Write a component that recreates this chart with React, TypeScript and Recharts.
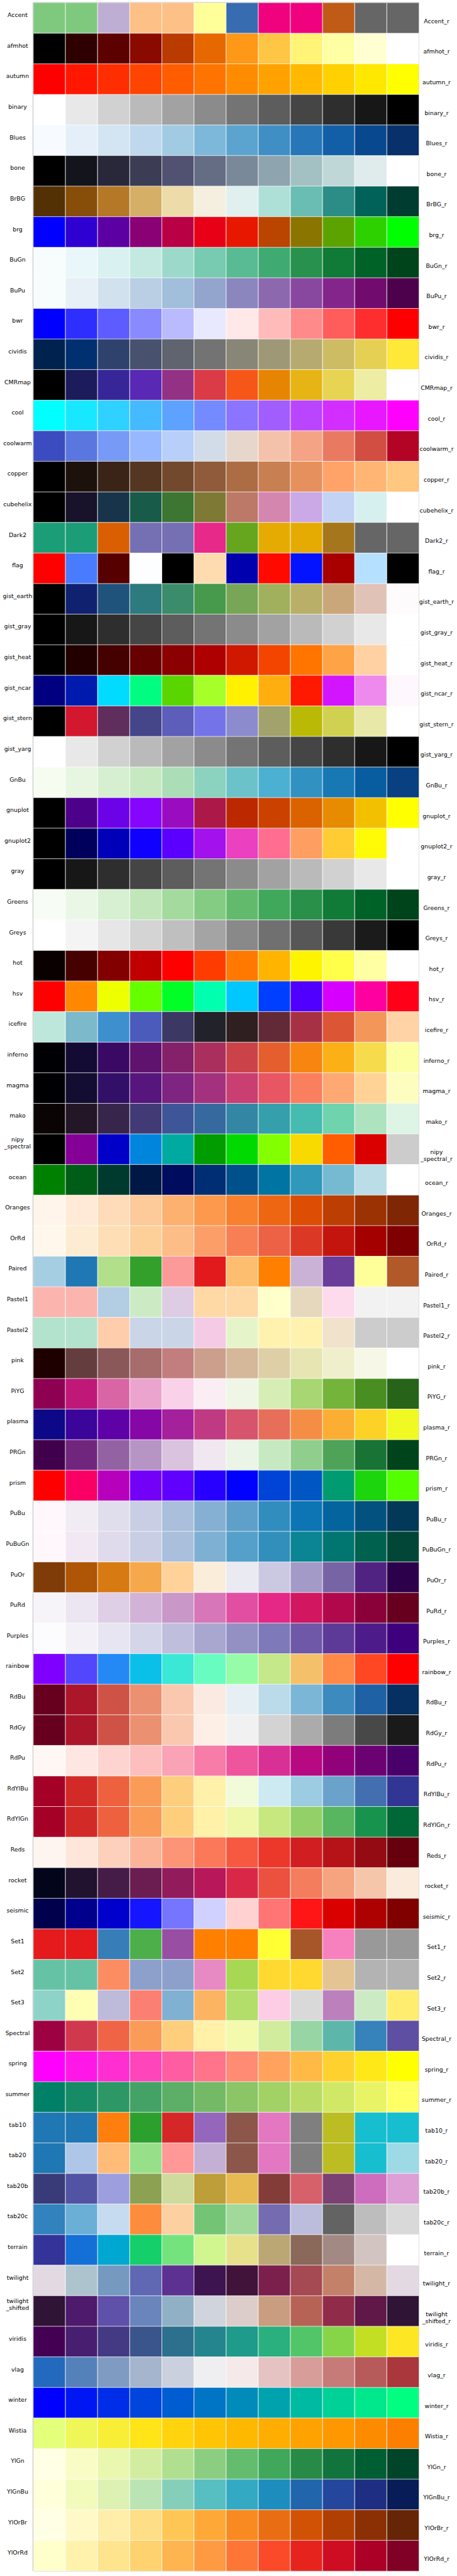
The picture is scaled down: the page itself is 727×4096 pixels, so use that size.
import React from "react";
import { BarChart, Bar, XAxis, YAxis, Cell, ReferenceArea } from "recharts";

// colormap names, top to bottom
const CMAP_NAMES = [
  "Accent", "afmhot", "autumn", "binary", "Blues", "bone", "BrBG", "brg", "BuGn", "BuPu",
  "bwr", "cividis", "CMRmap", "cool", "coolwarm", "copper", "cubehelix", "Dark2", "flag",
  "gist_earth", "gist_gray", "gist_heat", "gist_ncar", "gist_stern", "gist_yarg", "GnBu",
  "gnuplot", "gnuplot2", "gray", "Greens", "Greys", "hot", "hsv", "icefire", "inferno",
  "magma", "mako", "nipy_spectral", "ocean", "Oranges", "OrRd", "Paired", "Pastel1",
  "Pastel2", "pink", "PiYG", "plasma", "PRGn", "prism", "PuBu", "PuBuGn", "PuOr", "PuRd",
  "Purples", "rainbow", "RdBu", "RdGy", "RdPu", "RdYlBu", "RdYlGn", "Reds", "rocket",
  "seismic", "Set1", "Set2", "Set3", "Spectral", "spring", "summer", "tab10", "tab20",
  "tab20b", "tab20c", "terrain", "twilight", "twilight_shifted", "viridis", "vlag", "winter",
  "Wistia", "YlGn", "YlGnBu", "YlOrBr", "YlOrRd",
];

// 12 samples per colormap, same order as CMAP_NAMES
const SWATCHES = [
  "7fc97f 7fc97f beaed4 fdc086 fdc086 ffff99 386cb0 f0027f f0027f bf5b17 666666 666666",
  "000000 2e0000 5c0000 8a0a00 ba3b00 e86800 ff9717 ffc545 fff475 ffffa3 ffffd1 ffffff",
  "ff0000 ff1700 ff2e00 ff4500 ff5d00 ff7400 ff8b00 ffa200 ffba00 ffd100 ffe800 ffff00",
  "ffffff e8e8e8 d1d1d1 bababa a2a2a2 8b8b8b 747474 5d5d5d 454545 2e2e2e 171717 000000",
  "f7fbff e5eff9 d3e4f3 bfd8ed a1cbe2 7db8da 5ca4d0 3f8fc5 2676b8 135fa7 08488e 08306b",
  "000000 14141c 28283a 3c3c54 515171 656d85 7a8999 8ea4ae a3c1c3 c0d7d7 e0ebeb ffffff",
  "543005 874e0a b57826 d6af66 eedbaa f5efdf e0f0ee aee0d8 6abdb2 2b8d85 01625a 003c30",
  "0000ff 2e00d1 5c00a3 8a0075 ba0045 e80017 e81700 ba4500 8a7500 5ca300 2ed100 00ff00",
  "f7fcfd eaf7fa daf1f1 c4e9e1 9dd9cb 78cab1 59bb93 3fab72 28914d 107a37 006227 00441b",
  "f7fcfd e6f0f6 d1e1ee bacfe4 a1bedb 93a4cd 8c86be 8c68af 8948a0 84258b 720b6e 4d004b",
  "0000ff 2e2eff 5c5cff 8a8aff babaff e8e8ff ffe8e8 ffbaba ff8a8a ff5c5c ff2e2e ff0000",
  "00224e 00306f 2f426d 48526e 5f646f 737373 888677 9f9877 b6aa70 cdbc63 e5d054 fee838",
  "000000 1c1c5c 372698 5928b5 933285 da3b46 f65718 e68502 e6b515 e6d452 ededa3 ffffff",
  "00ffff 17e8ff 2ed1ff 45baff 5da2ff 748bff 8b74ff a25dff ba45ff d12eff e817ff ff00ff",
  "3b4cc0 5977de 779af7 97b8ff b7cff9 d2dbe8 e7d6cc f4c2aa f5a385 e97a61 d24d42 b40426",
  "000000 1c120b 392417 553622 73492e 8f5b3a ac6d45 c87f51 e6915d ffa368 ffb573 ffc77f",
  "000000 19122b 17344b 185b48 3c7632 7e7a36 bc7967 d486af caa9e6 c2d3f3 d6f0ef ffffff",
  "1b9e77 1b9e77 d95f02 7570b3 7570b3 e7298a 66a61e e6ab02 e6ab02 a6761d 666666 666666",
  "ff0000 497bff 570000 fcfeff 000000 ffdcaf 0000af ff0900 0313ff a80000 b6e0ff 000000",
  "000000 10226f 20537b 2d7a7f 3b8c6b 47994c 77a656 a0b05c b9af68 caa77b e1c2b6 fdfbfb",
  "000000 171717 2e2e2e 454545 5d5d5d 747474 8b8b8b a2a2a2 bababa d1d1d1 e8e8e8 ffffff",
  "000000 220000 450000 670000 8b0000 ae0000 d01700 f34500 ff7500 ffa347 ffd1a3 ffffff",
  "000080 001aae 00dbfe 00fd82 5ad500 a6ff28 fff100 ffae10 ff1900 d314ff ee8aee fef8fe",
  "000000 d2172e 5f2e5c 45458a 5d5dba 7474e8 8b8bce a2a26c baba06 d1d151 e8e8a8 ffffff",
  "ffffff e8e8e8 d1d1d1 bababa a2a2a2 8b8b8b 747474 5d5d5d 454545 2e2e2e 171717 000000",
  "f7fcf0 e6f6e1 d7efd1 c6e9c2 abdeb6 8bd2bf 6bc3c9 4bb0d1 3192c2 1878b4 085da0 084081",
  "000000 4d0089 6c02e7 8505fd 9a0cc0 ac1848 bc2900 cb4100 da6300 e78c00 f3c000 ffff00",
  "000000 00005c 0000b8 1000ff 5b00ff a312ed eb40bf ff6e91 ff9e61 ffcc33 fffa05 ffffff",
  "000000 171717 2e2e2e 454545 5d5d5d 747474 8b8b8b a2a2a2 bababa d1d1d1 e8e8e8 ffffff",
  "f7fcf5 eaf7e6 d8f0d2 c1e6ba a4da9e 84cc83 62bb6d 3fa85b 289049 107a37 006227 00441b",
  "ffffff f4f4f4 e6e6e6 d4d4d4 bfbfbf a4a4a4 898989 707070 575757 393939 1b1b1b 000000",
  "0b0000 470000 830000 c00000 ff0000 ff3c00 ff7800 ffb500 fff400 ffff4a ffffa4 ffffff",
  "ff0000 ff8800 eeff00 66ff00 00ff27 00ffaf 00c7ff 003fff 4f00ff d600ff ff00a0 ff0018",
  "bde7db 7bb9cb 3e8fce 4a5bbb 3b3864 22222a 2f1f20 622a37 a73144 dc5535 f2965a ffd3a5",
  "000004 140b35 3a0963 5f136e 85216a aa2f5d cb4348 e55f2e f78510 fbb016 f6dc4d fcffa4",
  "000004 120d31 331067 57167d 7e2481 a4317d c93f71 e85563 fa7f5f fea874 fed395 fcfdbf",
  "0b0405 231626 37254b 413a75 3e5598 366a9f 3486a5 35a0ab 46bbb0 6fd3ad aee3c0 def5e5",
  "000000 850096 0000c9 0085dd 00aaa0 009c00 00da00 84ff00 f8da00 ff5d00 da0000 cccccc",
  "008000 005d17 003a2e 001845 000c5d 002e74 00518b 0074a2 3098ba 75bad1 badde8 ffffff",
  "fff5eb feead6 fedcba fdca99 fdb170 fd994d f9802d ef6612 dd4d04 bd3e02 9b3203 7f2704",
  "fff7ec feecd2 fedfb5 fdd09a fdbd86 fc9e68 f77f53 ed6145 db3926 c3150e a40000 7f0000",
  "a6cee3 1f78b4 b2df8a 33a02c fb9a99 e31a1c fdbf6f ff7f00 cab2d6 6a3d9a ffff99 b15928",
  "fbb4ae fbb4ae b3cde3 ccebc5 decbe4 fed9a6 fed9a6 ffffcc e5d8bd fddaec f2f2f2 f2f2f2",
  "b3e2cd b3e2cd fdcdac cbd5e8 cbd5e8 f4cae4 e6f5c9 fff2ae fff2ae f1e2cc cccccc cccccc",
  "1e0000 643e3e 8a5858 a76c6c c27e7e cc9e8c d5b89a decfa6 e7e5b2 efefcc f7f7e7 ffffff",
  "8e0152 c01879 d965a4 eba4cd f9d1e8 faedf3 eff6e5 d6eeb6 a7d672 75b43b 498e20 276419",
  "0d0887 3b049a 5e01a6 8507a5 a5209b c03a83 d6546e e76f5a f58e45 fcae33 fbd225 f0f921",
  "40004b 71267e 9262a3 b695c4 dac3df f0e7f0 eaf4e7 c7e9c1 90ce8e 4ea359 187334 00441b",
  "ff0000 fa0064 b700bb 7300f7 6000ff 2700ff 0001ff 0044d7 0057c3 009b70 1dd50d 54ff00",
  "fff7fb f1ebf4 e0dded c9cee4 a9bfdc 86b0d3 5ea0ca 328dbf 0d75b3 04649d 03517e 023858",
  "fff7fb f1e8f3 e0dbec c9cee4 a9bfdc 7eb0d3 55a0ca 328fbc 0b8493 01756f 01614f 014636",
  "7f3b08 ae5506 d77a11 f5a84c fed299 faedda e9eaf2 cbc9e2 a39ac7 7764a5 502382 2d004b",
  "f7f4f9 ebe6f2 dfcfe6 d2b3d7 ca97c9 d776b8 e24fa2 e52786 d2165f b0084b 8a0039 67001f",
  "fcfbfd f3f1f7 e6e5f1 d5d5e9 bfbfdd a9a7cf 9390c3 7e79b8 6e58a7 5e3a98 4e1c8a 3f007d",
  "8000ff 5247fc 2489f5 0bc0e8 3be8d6 68fcc1 97fca7 c4e88a f4c069 ff8947 ff4724 ff0000",
  "67001f ab162a cf5246 eb9172 fac8af faeae1 e6eff4 bbdaea 7bb6d6 3c8abe 1e61a5 053061",
  "67001f ab162a cf5246 eb9172 fac8af feefe6 f1f1f1 d3d3d3 ababab 7c7c7c 484848 1a1a1a",
  "fff7f3 fee6e3 fdd4d0 fcbfbe faa2b6 f87ca8 ee559d d93095 b60982 91017a 6c0173 49006a",
  "a50026 d22b27 ee613e fa9b58 fece7f fff1aa f1fad9 cdeaf3 9bcce2 6ba2cb 436fb1 313695",
  "a50026 d22b27 ee613e fa9b58 fece7c fff1a8 eef8a8 c7e77f 93d168 57b65f 18934e 006837",
  "fff5f0 fee6da fdd0bc fcb499 fc9576 fb7858 f75940 ec382b d11e20 b61319 940b13 67000d",
  "03051a 21132f 451c47 6b1d51 921c5b b8175a d92847 ec503e f37d5c f6a37f f6c6ab faebdd",
  "00004c 00008d 0000cd 1515ff 7575ff d1d1ff ffd1d1 ff7575 ff1515 db0000 ad0000 800000",
  "e41a1c e41a1c 377eb8 4daf4a 984ea3 ff7f00 ff7f00 ffff33 a65628 f781bf 999999 999999",
  "66c2a5 66c2a5 fc8d62 8da0cb 8da0cb e78ac3 a6d854 ffd92f ffd92f e5c494 b3b3b3 b3b3b3",
  "8dd3c7 ffffb3 bebada fb8072 80b1d3 fdb462 b3de69 fccde5 d9d9d9 bc80bd ccebc5 ffed6f",
  "9e0142 d0384e ee6445 fa9b58 fece7c fff1a8 f4faad d1ec9c 97d5a4 5cb7aa 3682ba 5e4fa2",
  "ff00ff ff17e8 ff2ed1 ff45ba ff5da2 ff748b ff8b74 ffa25d ffba45 ffd12e ffe817 ffff00",
  "008066 178b66 2e9766 45a266 5dae66 74ba66 8bc566 a2d166 badc66 d1e866 e8f466 ffff66",
  "1f77b4 1f77b4 ff7f0e 2ca02c d62728 9467bd 8c564b e377c2 7f7f7f bcbd22 17becf 17becf",
  "1f77b4 aec7e8 ffbb78 98df8a ff9896 c5b0d5 8c564b e377c2 7f7f7f bcbd22 17becf 9edae5",
  "393b79 5254a3 9c9ede 8ca252 cedb9c bd9e39 e7ba52 843c39 d6616b 7b4173 ce6dbd de9ed6",
  "3182bd 6baed6 c6dbef fd8d3c fdd0a2 74c476 a1d99b 756bb1 bcbddc 636363 bdbdbd d9d9d9",
  "333399 1470d6 00a8d1 15d06a 75e37d d1f690 e8e18c baa774 8a695a a38984 d1c4c1 ffffff",
  "e2d9e2 adc4ce 7599bf 6068b4 5d3191 3d144f 41133b 7b204d a54953 c3816a d4b7a5 e2d9e2",
  "2f1436 4e1a6c 5f50a9 6a84bc 90b0c5 d0d4dc dccdca c99d80 b66356 902c4a 5f1847 2f1436",
  "440154 481f70 443983 3a548c 2d708e 25858e 1e9b8a 2ab07f 52c569 86d549 c2df23 fde725",
  "2369bd 5581bb 809bc2 a4b5cd cbd0de efeef1 f6e9e9 e5c3c3 d69d99 c67b79 b75b5a a9373b",
  "0000ff 0017f4 002ee8 0045dc 005dd1 0074c5 008bba 00a2ae 00baa2 00d196 00e88b 00ff80",
  "e4ff7a eef757 f8ee35 ffe418 ffd40e ffc505 ffb800 ffad00 ffa200 fe9700 fd8b00 fc7f00",
  "ffffe5 f9fdc5 eaf7af d2eda0 b1df90 8bce81 64bc6f 3fa85b 288a47 10743c 005e33 004529",
  "ffffd9 f2fabc dcf1b2 bbe4b5 85cfba 57bec1 34a9c3 1d8dbe 2166ac 24479d 1d2e83 081d58",
  "ffffe5 fff9c7 feeea9 fede86 fec654 fea937 f88a21 e96d12 d15205 b03f03 8b3005 662506",
  "ffffcc fff2ac fee48d fed36f feb54f fd9a42 fd7636 fa4a29 e7231e ce0c22 ac0026 800026",
];

// long names are broken over two lines
const WRAPPED: Record<string, string[]> = {
  nipy_spectral: ["nipy", "_spectral"],
  twilight_shifted: ["twilight", "_shifted"],
};

// every swatch is one unit wide
const SAMPLE_KEYS = SWATCHES[0].split(" ").map((_, i) => `s${i}`);
const CELL_SPAN = 1;

const data = CMAP_NAMES.map((name) => {
  const row: Record<string, string | number> = { name };
  SAMPLE_KEYS.forEach((k) => (row[k] = CELL_SPAN));
  return row;
});
const colors = SWATCHES.map((s) => s.split(" ").map((h) => "#" + h));

const W = 727;
const H = 4096;
const FONT = 9.4;
const LINE = 10.9;
const LEFT_X = 28;
const RIGHT_X = 694.5;

const labelStyle = {
  fontSize: FONT,
  fontFamily: "DejaVu Sans",
  fill: "#000",
};

const LeftTick = (props: any) => {
  const { y, payload } = props;
  const lines = WRAPPED[payload.value] ?? [payload.value];
  return (
    <g>
      {lines.map((ln: string, i: number) => (
        <text
          key={i}
          x={LEFT_X}
          y={y - 4.9 - (lines.length - 1 - i) * LINE}
          textAnchor="middle"
          dominantBaseline="central"
          {...labelStyle}
        >
          {ln}
        </text>
      ))}
    </g>
  );
};

const RightTick = (props: any) => {
  const { y, payload } = props;
  const base = WRAPPED[payload.value] ?? [payload.value];
  const lines = base.map((ln: string, i: number) =>
    i === base.length - 1 ? ln + "_r" : ln
  );
  return (
    <g>
      {lines.map((ln: string, i: number) => (
        <text
          key={i}
          x={RIGHT_X}
          y={y + 4.6 + i * LINE}
          textAnchor="middle"
          dominantBaseline="central"
          {...labelStyle}
        >
          {ln}
        </text>
      ))}
    </g>
  );
};

export default function App() {
  return (
    <div
      style={{
        position: "absolute",
        left: 0,
        top: 0,
        width: W,
        height: H,
        background: "#fff",
      }}
    >
      <BarChart
        width={W}
        height={H}
        data={data}
        layout="vertical"
        margin={{ top: 4.3, right: 0, bottom: 8.1, left: 0 }}
        barCategoryGap={0}
        barGap={0}
      >
        <XAxis type="number" domain={[0, SAMPLE_KEYS.length]} hide />
        <YAxis
          type="category"
          dataKey="name"
          width={53}
          axisLine={false}
          tickLine={false}
          interval={0}
          tick={<LeftTick />}
        />
        <YAxis
          yAxisId="r"
          type="category"
          dataKey="name"
          orientation="right"
          width={60.5}
          axisLine={false}
          tickLine={false}
          interval={0}
          tick={<RightTick />}
        />
        {SAMPLE_KEYS.map((k, i) => (
          <Bar
            key={k}
            dataKey={k}
            stackId="cmap"
            stroke="#fff"
            strokeWidth={0.7}
            isAnimationActive={false}
          >
            {colors.map((row, r) => (
              <Cell key={r} fill={row[i]} />
            ))}
          </Bar>
        ))}
        {CMAP_NAMES.map((name) => (
          <ReferenceArea
            key={name}
            y1={name}
            y2={name}
            fill="none"
            stroke="#000"
            strokeWidth={0.8}
            ifOverflow="visible"
          />
        ))}
      </BarChart>
    </div>
  );
}
